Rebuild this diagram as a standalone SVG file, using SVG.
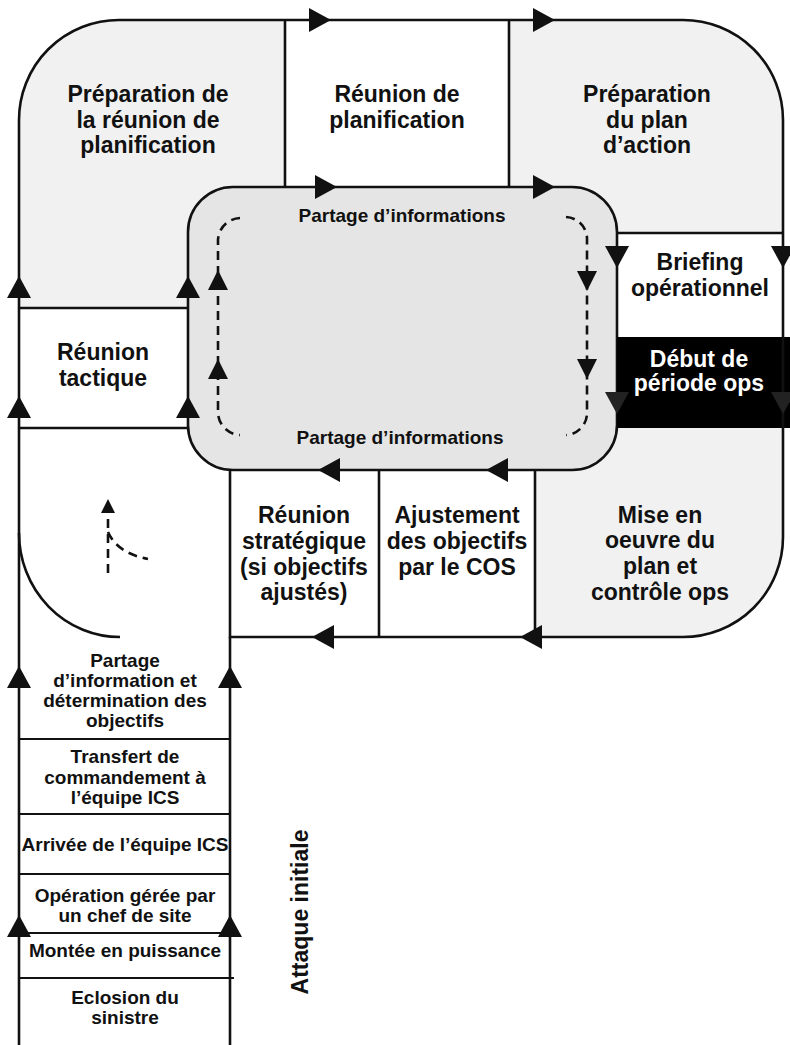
<svg xmlns="http://www.w3.org/2000/svg" xmlns:xlink="http://www.w3.org/1999/xlink" width="790" height="1045" viewBox="0 0 790 1045">
<style>
  .t{font-family:"Liberation Sans",Arial,Helvetica,sans-serif;font-weight:bold;fill:#111;text-anchor:middle}
  .big{font-size:23px}
  .med{font-size:19px}
  .col{font-size:19px}
  .w{fill:#fff}
  .ln{fill:none;stroke:#111;stroke-width:2.6}
  .thin{fill:none;stroke:#111;stroke-width:2.2}
  .dash{fill:none;stroke:#111;stroke-width:2.6;stroke-dasharray:9,6}
  .g1{fill:#f1f1f1}
  .g2{fill:#e5e5e5}
  .ah{fill:#111}
</style>
<defs>
  <path id="ah" d="M-11,-12 L11,0 L-11,12 Z"/>
  <path id="ahs" d="M-10,-10 L10,0 L-10,10 Z"/>
  <path id="aht" d="M-7,-7 L7,0 L-7,7 Z"/>
</defs>
<rect x="0" y="0" width="790" height="1045" fill="#fff"/>

<g id="node-preparation-reunion">
  <path class="g1" d="M19,308 V120 A100,100 0 0 1 119,20 H285 V240 H188 V308 Z"/>
  <text class="t big" x="148" y="102">Préparation de</text>
  <text class="t big" x="148" y="128">la réunion de</text>
  <text class="t big" x="148" y="153">planification</text>
</g>
<g id="node-reunion-planification">
  <rect x="285" y="20" width="224" height="167" fill="#fff"/>
  <text class="t big" x="397" y="102">Réunion de</text>
  <text class="t big" x="397" y="128">planification</text>
</g>
<g id="node-preparation-plan">
  <path class="g1" d="M509,20 H683 A100,100 0 0 1 783,120 V233 H509 Z"/>
  <text class="t big" x="647" y="102">Préparation</text>
  <text class="t big" x="647" y="128">du plan</text>
  <text class="t big" x="647" y="153">d’action</text>
</g>
<g id="node-mise-en-oeuvre">
  <path class="g1" d="M535,428 H783 V537 A100,100 0 0 1 683,637 H535 Z"/>
</g>
<g id="node-partage-informations">
  <rect class="g2" x="188" y="187" width="429" height="283" rx="45" ry="45" stroke="#111" stroke-width="2.6"/>
  <text class="t med" x="402" y="222">Partage d’informations</text>
  <text class="t med" x="400" y="444">Partage d’informations</text>
</g>
<g id="node-mise-text">
  <text class="t big" x="660" y="523">Mise en</text>
  <text class="t big" x="660" y="548">oeuvre du</text>
  <text class="t big" x="660" y="574">plan et</text>
  <text class="t big" x="660" y="600">contrôle ops</text>
</g>
<g id="node-briefing">
  <text class="t big" x="700" y="270">Briefing</text>
  <text class="t big" x="700" y="296">opérationnel</text>
</g>
<g id="node-debut">
  <rect x="617" y="337" width="173" height="91" fill="#000"/>
  <text class="t big w" x="699" y="367">Début de</text>
  <text class="t big w" x="699" y="391">période ops</text>
</g>
<g id="node-reunion-tactique">
  <text class="t big" x="103" y="360">Réunion</text>
  <text class="t big" x="103" y="386">tactique</text>
</g>
<g id="node-reunion-strategique">
  <text class="t big" x="304" y="523">Réunion</text>
  <text class="t big" x="304" y="549">stratégique</text>
  <text class="t big" x="304" y="575">(si objectifs</text>
  <text class="t big" x="304" y="600">ajustés)</text>
</g>
<g id="node-ajustement">
  <text class="t big" x="457" y="523">Ajustement</text>
  <text class="t big" x="457" y="549">des objectifs</text>
  <text class="t big" x="457" y="575">par le COS</text>
</g>
<g id="node-partage-objectifs">
  <text class="t col" x="125" y="667">Partage</text>
  <text class="t col" x="125" y="687">d’information et</text>
  <text class="t col" x="125" y="707">détermination des</text>
  <text class="t col" x="125" y="727">objectifs</text>
</g>
<g id="node-transfert">
  <text class="t col" x="125" y="763">Transfert de</text>
  <text class="t col" x="125" y="784">commandement à</text>
  <text class="t col" x="125" y="804">l’équipe ICS</text>
</g>
<g id="node-arrivee">
  <text class="t col" x="125" y="851">Arrivée de l’équipe ICS</text>
</g>
<g id="node-operation">
  <text class="t col" x="125" y="902">Opération gérée par</text>
  <text class="t col" x="125" y="922">un chef de site</text>
</g>
<g id="node-montee">
  <text class="t col" x="125" y="957">Montée en puissance</text>
</g>
<g id="node-eclosion">
  <text class="t col" x="125" y="1004">Eclosion du</text>
  <text class="t col" x="125" y="1024">sinistre</text>
</g>
<g id="label-attaque">
  <text class="t big" transform="translate(308,912) rotate(-90)" x="0" y="0">Attaque initiale</text>
</g>

<g id="frame">
  <path class="ln" d="M19,1045 V120 A100,100 0 0 1 119,20 H683 A100,100 0 0 1 783,120 V537 A100,100 0 0 1 683,637 H230 V470"/>
  <path class="ln" d="M230,637 V1045"/>
  <path class="ln" d="M285,20 V187 M509,20 V187 M617,233 H783 M19,308 H188 M19,428 H188 M379,470 V637 M535,470 V637"/>
  <path class="ln" d="M19,533 A101,104 0 0 0 120,637"/>
  <path class="thin" d="M19,739 H230 M19,814 H230 M19,874 H230 M19,933 H230 M19,978 H234"/>
</g>

<g id="connectors">
  <path class="dash" d="M240,218 A23,23 0 0 0 218,242 V412 A23,23 0 0 0 240,435"/>
  <path class="dash" d="M566,217 A22,22 0 0 1 587,240 V413 A22,22 0 0 1 566,435"/>
  <path class="dash" d="M108,573 V512"/>
  <path class="dash" d="M108,532 Q117,553 148,559" stroke-dasharray="8,8"/>
  <g class="ah">
    <use xlink:href="#ah" transform="translate(320,20)"/>
    <use xlink:href="#ah" transform="translate(544,20)"/>
    <use xlink:href="#ah" transform="translate(326,187)"/>
    <use xlink:href="#ah" transform="translate(544,187)"/>
    <use xlink:href="#ah" transform="translate(617,257) rotate(90)"/>
    <use xlink:href="#ah" transform="translate(783,257) rotate(90)"/>
    <use xlink:href="#ah" transform="translate(617,403) rotate(90)" fill="#222"/>
    <use xlink:href="#ah" transform="translate(783,403) rotate(90)" fill="#222"/>
    <use xlink:href="#ah" transform="translate(329,470) rotate(180)"/>
    <use xlink:href="#ah" transform="translate(497,470) rotate(180)"/>
    <use xlink:href="#ah" transform="translate(323,637) rotate(180)"/>
    <use xlink:href="#ah" transform="translate(531,637) rotate(180)"/>
    <use xlink:href="#ah" transform="translate(19,287) rotate(-90)"/>
    <use xlink:href="#ah" transform="translate(188,287) rotate(-90)"/>
    <use xlink:href="#ah" transform="translate(19,407) rotate(-90)"/>
    <use xlink:href="#ah" transform="translate(188,407) rotate(-90)"/>
    <use xlink:href="#ah" transform="translate(19,677) rotate(-90)"/>
    <use xlink:href="#ah" transform="translate(230,677) rotate(-90)"/>
    <use xlink:href="#ah" transform="translate(19,926) rotate(-90)"/>
    <use xlink:href="#ah" transform="translate(230,926) rotate(-90)"/>
    <use xlink:href="#ahs" transform="translate(218,280) rotate(-90)"/>
    <use xlink:href="#ahs" transform="translate(218,369) rotate(-90)"/>
    <use xlink:href="#ahs" transform="translate(587,281) rotate(90)"/>
    <use xlink:href="#ahs" transform="translate(587,369) rotate(90)"/>
    <use xlink:href="#aht" transform="translate(108,506) rotate(-90)"/>
  </g>
</g>
</svg>
